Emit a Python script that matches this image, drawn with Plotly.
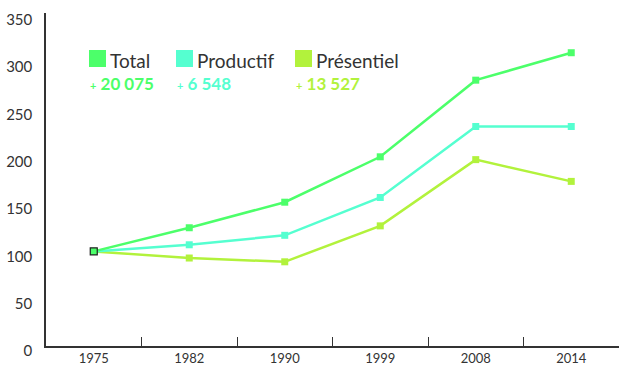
import plotly.graph_objects as go

years = ["1975", "1982", "1990", "1999", "2008", "2014"]
total = [100, 125, 152, 200, 281, 310]
productif = [100, 107, 117, 157, 232, 232]
presentiel = [100, 93, 89, 127, 197, 174]

series_names = ["Total", "Productif", "Présentiel"]
series_gains = ["20 075", "6 548", "13 527"]
colors = ["#4cff6a", "#55ffd0", "#b2f23c"]

L, R, T, B = 46, 3, 13, 20
W, H = 622, 366
pw, ph = W - L - R, H - T - B

def px(x):
    return (x - L) / pw

def py(y):
    return (H - B - y) / ph

fig = go.Figure()
for name, vals, col in [("Présentiel", presentiel, colors[2]),
                        ("Productif", productif, colors[1]),
                        ("Total", total, colors[0])]:
    if name == "Total":
        mline = dict(color=["#222"] + [col] * (len(vals) - 1),
                     width=[1.2] + [0] * (len(vals) - 1))
    else:
        mline = dict(width=0)
    fig.add_trace(go.Scatter(
        x=years, y=vals, name=name, mode="lines+markers",
        line=dict(color=col, width=2.5),
        marker=dict(symbol="square", size=7, color=col, line=mline),
        showlegend=False, cliponaxis=False))

shapes = []
annotations = []
legend_x = [89, 176, 295]
for i, (nm, g, col) in enumerate(zip(series_names, series_gains, colors)):
    x0 = legend_x[i]
    shapes.append(dict(type="rect", xref="paper", yref="paper",
                       x0=px(x0), x1=px(x0 + 17), y0=py(67), y1=py(50),
                       fillcolor=col, line=dict(width=0)))
    annotations.append(dict(xref="paper", yref="paper", x=px(x0 + 19), y=py(60),
                            xanchor="left", yanchor="middle", showarrow=False,
                            text=nm, font=dict(size=19, color="#333", family="Lato")))
    annotations.append(dict(xref="paper", yref="paper", x=px(x0 - 1), y=py(84),
                            xanchor="left", yanchor="middle", showarrow=False,
                            text="<b><span style='font-size:11px'>+</span> " + g + "</b>",
                            font=dict(size=17, color=col, family="Lato")))

fig.update_layout(
    width=W, height=H,
    margin=dict(l=L, r=R, t=T, b=B, autoexpand=False),
    paper_bgcolor="white", plot_bgcolor="white",
    font=dict(family="Lato", color="#333"),
    shapes=shapes, annotations=annotations,
    xaxis=dict(type="category", tickson="boundaries", ticks="inside", ticklen=9,
               tickcolor="#333", tickwidth=1, showline=True, linecolor="#333",
               linewidth=1.5, showgrid=False, zeroline=False, automargin=False,
               tickfont=dict(size=13, color="#333"), range=[-0.5, 5.5],
               ticklabelstandoff=0),
    yaxis=dict(range=[0, 352], tickvals=[0, 50, 100, 150, 200, 250, 300, 350],
               showline=True, linecolor="#333", linewidth=1.5, showgrid=False,
               zeroline=False, ticks="", automargin=False,
               tickfont=dict(size=15, color="#333"),
               ticklabelshift=5, ticklabelstandoff=9),
)

fig.write_html("out.html")
